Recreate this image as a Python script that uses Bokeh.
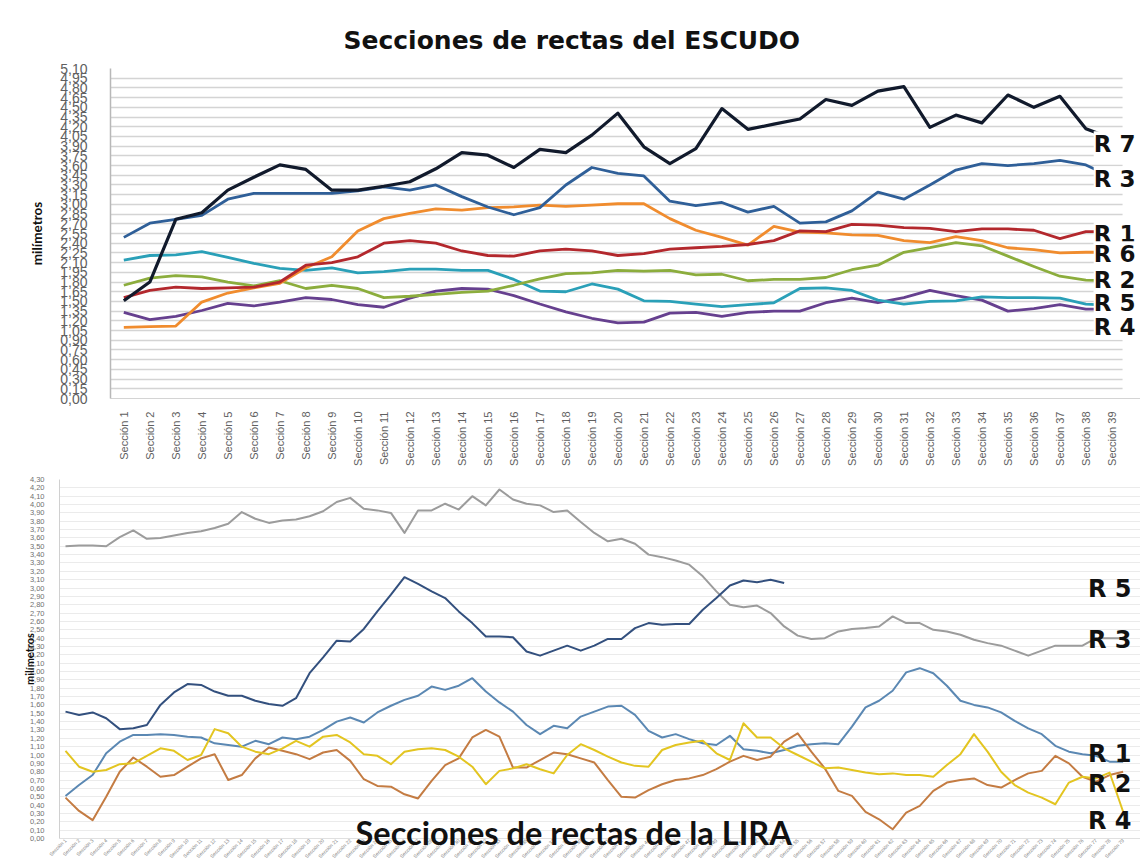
from math import pi
from bokeh.plotting import figure
from bokeh.models import FixedTicker, CustomJSTickFormatter, Label, BoxAnnotation, Title
from bokeh.embed import file_html
from bokeh.resources import INLINE

# ---------------- ESCUDO (top chart) ----------------
secciones_escudo = [f"Sección {i}" for i in range(1, 40)]
escudo_r7 = [1.51, 1.80, 2.77, 2.87, 3.22, 3.42, 3.61, 3.54, 3.22, 3.22, 3.28,
             3.35, 3.55, 3.80, 3.76, 3.57, 3.85, 3.80, 4.07, 4.41, 3.89, 3.63, 3.86, 4.48, 4.16, 4.24, 4.32,
             4.62, 4.53, 4.75, 4.82, 4.19, 4.38, 4.26, 4.69, 4.50, 4.67, 4.17, 4.02]
escudo_r3 = [2.49, 2.71, 2.77, 2.83, 3.08, 3.17, 3.17, 3.17, 3.17, 3.21, 3.27,
             3.22, 3.30, 3.12, 2.96, 2.84, 2.95, 3.30, 3.57, 3.48, 3.44, 3.05, 2.98, 3.03, 2.88, 2.97, 2.71,
             2.73, 2.90, 3.19, 3.08, 3.30, 3.53, 3.63, 3.60, 3.63, 3.68, 3.61, 3.42]
escudo_r1 = [1.56, 1.67, 1.72, 1.70, 1.71, 1.72, 1.80, 2.06, 2.10, 2.19, 2.40,
             2.44, 2.40, 2.28, 2.21, 2.20, 2.28, 2.31, 2.28, 2.21, 2.24, 2.31, 2.33, 2.35, 2.38, 2.44, 2.59,
             2.58, 2.69, 2.68, 2.64, 2.63, 2.58, 2.62, 2.62, 2.60, 2.47, 2.58, 2.58]
escudo_r6 = [1.10, 1.11, 1.12, 1.49, 1.63, 1.71, 1.78, 2.02, 2.19, 2.59, 2.78,
             2.86, 2.93, 2.91, 2.95, 2.96, 2.99, 2.97, 2.99, 3.01, 3.01, 2.78, 2.60, 2.49, 2.37, 2.66, 2.57,
             2.56, 2.53, 2.52, 2.44, 2.41, 2.50, 2.44, 2.33, 2.30, 2.25, 2.26, 2.26]
escudo_r2 = [1.75, 1.86, 1.90, 1.88, 1.80, 1.74, 1.82, 1.70, 1.75, 1.70, 1.56,
             1.58, 1.61, 1.64, 1.66, 1.75, 1.85, 1.93, 1.94, 1.98, 1.97, 1.98, 1.91, 1.92, 1.82, 1.84, 1.84,
             1.87, 1.99, 2.06, 2.26, 2.33, 2.41, 2.36, 2.20, 2.04, 1.89, 1.83, 1.82]
escudo_r5 = [2.14, 2.21, 2.22, 2.27, 2.18, 2.09, 2.01, 1.98, 2.02, 1.94, 1.96,
             2.00, 2.00, 1.98, 1.98, 1.84, 1.66, 1.65, 1.77, 1.69, 1.51, 1.50, 1.46, 1.42, 1.45, 1.48, 1.70,
             1.71, 1.67, 1.52, 1.46, 1.50, 1.51, 1.57, 1.56, 1.56, 1.55, 1.46, 1.44]
escudo_r4 = [1.33, 1.22, 1.27, 1.36, 1.47, 1.43, 1.49, 1.56, 1.53, 1.45, 1.41,
             1.55, 1.66, 1.70, 1.69, 1.59, 1.46, 1.34, 1.24, 1.17, 1.18, 1.32, 1.33, 1.27, 1.33, 1.35, 1.35,
             1.48, 1.55, 1.48, 1.56, 1.67, 1.59, 1.52, 1.35, 1.39, 1.45, 1.38, 1.38]
escudo_yticks = [round(0.15 * i, 2) for i in range(35)]

# ---------------- LIRA (bottom chart) ----------------
secciones_lira = [f"Sección {i}" for i in range(1, 80)]
lira_gris = [3.50, 3.51, 3.51, 3.50, 3.61, 3.69, 3.59, 3.60, 3.63, 3.66, 3.68, 3.72, 3.77, 3.91, 3.83, 3.78, 3.81, 3.82, 3.86, 3.92,
             4.03, 4.08, 3.95, 3.93, 3.90, 3.66, 3.93, 3.93, 4.01, 3.94, 4.10, 3.99, 4.18, 4.06, 4.01, 3.99, 3.91, 3.93, 3.79, 3.66,
             3.56, 3.59, 3.53, 3.40, 3.37, 3.33, 3.28, 3.14, 2.96, 2.80, 2.77, 2.79, 2.70, 2.54, 2.43, 2.39, 2.40, 2.48, 2.51, 2.52,
             2.54, 2.66, 2.58, 2.58, 2.50, 2.48, 2.44, 2.38, 2.34, 2.31, 2.25, 2.19, 2.25, 2.31, 2.31, 2.31, 2.40, 2.40, 2.40]
lira_azul_oscuro = [1.52, 1.48, 1.51, 1.44, 1.31, 1.32, 1.36, 1.60, 1.75, 1.85, 1.84, 1.76, 1.71, 1.71, 1.65, 1.61, 1.59, 1.68, 1.98, 2.17,
                    2.37, 2.36, 2.51, 2.72, 2.92, 3.13, 3.05, 2.96, 2.88, 2.72, 2.58, 2.42, 2.42, 2.41, 2.24, 2.19, 2.25, 2.31, 2.25, 2.31,
                    2.39, 2.39, 2.52, 2.58, 2.56, 2.57, 2.57, 2.74, 2.88, 3.03, 3.09, 3.07, 3.10, 3.06]
lira_azul_claro = [0.51, 0.64, 0.76, 1.02, 1.16, 1.24, 1.24, 1.25, 1.24, 1.22, 1.21, 1.14, 1.12, 1.10, 1.17, 1.13, 1.21, 1.19, 1.22, 1.30,
                   1.40, 1.45, 1.39, 1.51, 1.59, 1.66, 1.71, 1.82, 1.78, 1.83, 1.92, 1.76, 1.63, 1.52, 1.36, 1.25, 1.35, 1.32, 1.46, 1.52,
                   1.58, 1.59, 1.48, 1.29, 1.21, 1.25, 1.19, 1.14, 1.12, 1.23, 1.07, 1.05, 1.02, 1.06, 1.11, 1.13, 1.14, 1.13, 1.34, 1.57,
                   1.65, 1.77, 1.99, 2.04, 1.98, 1.83, 1.65, 1.60, 1.57, 1.51, 1.41, 1.32, 1.25, 1.11, 1.04, 1.01, 0.99, 0.92, 0.92]
lira_amarillo = [1.05, 0.86, 0.80, 0.82, 0.89, 0.90, 0.99, 1.08, 1.05, 0.94, 1.00, 1.31, 1.26, 1.10, 1.04, 1.01, 1.08, 1.17, 1.10, 1.22,
                 1.24, 1.15, 1.01, 0.99, 0.89, 1.04, 1.07, 1.08, 1.06, 0.98, 0.86, 0.65, 0.81, 0.84, 0.89, 0.83, 0.78, 1.00, 1.13, 1.06,
                 0.98, 0.91, 0.87, 0.86, 1.06, 1.12, 1.15, 1.17, 1.02, 0.94, 1.38, 1.21, 1.21, 1.08, 1.00, 0.92, 0.84, 0.85, 0.82, 0.79,
                 0.77, 0.78, 0.76, 0.76, 0.74, 0.88, 1.01, 1.25, 1.04, 0.80, 0.64, 0.55, 0.49, 0.41, 0.67, 0.74, 0.72, 0.79, 0.32]
lira_marron = [0.49, 0.33, 0.22, 0.50, 0.80, 0.97, 0.86, 0.74, 0.76, 0.86, 0.96, 1.01, 0.70, 0.76, 0.96, 1.09, 1.05, 1.01, 0.95, 1.03,
               1.06, 0.93, 0.71, 0.63, 0.62, 0.53, 0.48, 0.69, 0.88, 0.96, 1.21, 1.30, 1.22, 0.85, 0.85, 0.94, 1.03, 1.01, 0.96, 0.91,
               0.70, 0.50, 0.49, 0.58, 0.65, 0.70, 0.72, 0.76, 0.83, 0.92, 0.99, 0.94, 0.98, 1.16, 1.26, 1.04, 0.84, 0.57, 0.51, 0.32,
               0.23, 0.11, 0.31, 0.39, 0.57, 0.67, 0.70, 0.72, 0.64, 0.61, 0.70, 0.78, 0.81, 0.99, 0.90, 0.74, 0.68, 0.76, 0.80]
lira_yticks = [round(0.10 * i, 2) for i in range(44)]

comma_fmt = CustomJSTickFormatter(code="return tick.toFixed(2).replace('.', ',');")

# ================= TOP FIGURE =================
p1 = figure(width=1140, height=470, x_range=(0.488, 40.10), y_range=(0, 5.10),
            output_backend="svg", toolbar_location=None,
            title="Secciones de rectas del ESCUDO",
            min_border_left=110, min_border_right=0, min_border_top=68, min_border_bottom=72)
p1.outline_line_color = None
p1.title.align = "left"
p1.title.offset = 233
p1.title.standoff = 28
p1.title.text_font = "DejaVu Sans"
p1.title.text_font_style = "bold"
p1.title.text_font_size = "25px"
p1.title.text_color = "#111111"

p1.xgrid.visible = False
p1.ygrid.ticker = FixedTicker(ticks=escudo_yticks)
p1.ygrid.grid_line_color = "#d4d4d4"
p1.ygrid.grid_line_width = 1.5
# grid lines stop before the right-hand labels, as in the original
p1.add_layout(BoxAnnotation(left=39.41, fill_color="white", fill_alpha=1.0, line_color=None, level="underlay"))

p1.yaxis.ticker = FixedTicker(ticks=escudo_yticks)
p1.yaxis.formatter = comma_fmt
p1.yaxis.major_tick_line_color = None
p1.yaxis.minor_tick_line_color = None
p1.yaxis.major_label_standoff = 17
p1.yaxis.major_label_text_font = "Liberation Sans"
p1.yaxis.major_label_text_font_size = "14px"
p1.yaxis.major_label_text_color = "#606060"
p1.yaxis.axis_line_color = "#b8b8b8"
p1.yaxis.axis_line_width = 1.5
p1.yaxis.axis_label = "milímetros"
p1.yaxis.axis_label_standoff = 12
p1.yaxis.axis_label_text_font = "Lato"
p1.yaxis.axis_label_text_font_style = "bold"
p1.yaxis.axis_label_text_font_size = "13.5px"
p1.yaxis.axis_label_text_color = "#111111"

p1.xaxis.ticker = FixedTicker(ticks=list(range(1, 40)))
p1.xaxis.major_label_overrides = {i + 1: s for i, s in enumerate(secciones_escudo)}
p1.xaxis.major_label_orientation = pi / 2
p1.xaxis.major_tick_line_color = None
p1.xaxis.minor_tick_line_color = None
p1.xaxis.major_label_standoff = 7
p1.xaxis.major_label_text_font = "Liberation Sans"
p1.xaxis.major_label_text_font_size = "11px"
p1.xaxis.major_label_text_color = "#606060"
p1.xaxis.axis_line_color = "#d4d4d4"

xs1 = list(range(1, 40))
escudo_series = [
    (escudo_r4, "#66408f"),
    (escudo_r5, "#2aa0b8"),
    (escudo_r2, "#8cad3d"),
    (escudo_r6, "#f08c2e"),
    (escudo_r1, "#b3282d"),
    (escudo_r3, "#2f5f98"),
    (escudo_r7, "#111a2c"),
]
for vals, col in escudo_series:
    p1.line(xs1, vals, line_color=col, line_width=3.2 if col == "#111a2c" else 2.8, line_join="round")

escudo_labels = [("R 7", 3.93), ("R 3", 3.39), ("R 1", 2.54), ("R 6", 2.23), ("R 2", 1.83), ("R 5", 1.47), ("R 4", 1.11)]
for t, yv in escudo_labels:
    p1.add_layout(Label(x=38.30, y=yv, text=t, text_align="left", text_baseline="middle",
                        text_font="DejaVu Sans", text_font_style="bold", text_font_size="23px",
                        text_color="#111111", background_fill_color="white", background_fill_alpha=1.0))

# ================= BOTTOM FIGURE =================
p2 = figure(width=1140, height=394, x_range=(0.5575, 80.28), y_range=(0, 4.30),
            output_backend="svg", toolbar_location=None,
            min_border_left=59, min_border_right=0, min_border_top=9, min_border_bottom=23)
p2.outline_line_color = None
p2.xgrid.visible = False
p2.ygrid.ticker = FixedTicker(ticks=lira_yticks)
p2.ygrid.grid_line_color = "#ebebeb"
p2.ygrid.grid_line_width = 1.2

p2.yaxis.ticker = FixedTicker(ticks=lira_yticks)
p2.yaxis.formatter = comma_fmt
p2.yaxis.major_tick_line_color = None
p2.yaxis.minor_tick_line_color = None
p2.yaxis.major_label_standoff = 9
p2.yaxis.major_label_text_font = "Liberation Sans"
p2.yaxis.major_label_text_font_size = "7.5px"
p2.yaxis.major_label_text_color = "#707070"
p2.yaxis.axis_line_color = "#d0d0d0"
p2.yaxis.axis_label = "milímetros"
p2.yaxis.axis_label_standoff = -9
p2.yaxis.axis_label_text_font = "Lato"
p2.yaxis.axis_label_text_font_style = "bold"
p2.yaxis.axis_label_text_font_size = "11px"
p2.yaxis.axis_label_text_color = "#111111"

p2.xaxis.ticker = FixedTicker(ticks=list(range(1, 80)))
p2.xaxis.major_label_overrides = {i + 1: s for i, s in enumerate(secciones_lira)}
p2.xaxis.major_label_orientation = pi / 4
p2.xaxis.major_tick_line_color = None
p2.xaxis.minor_tick_line_color = None
p2.xaxis.major_tick_out = 0
p2.xaxis.major_tick_in = 0
p2.xaxis.major_label_standoff = 1
p2.xaxis.major_label_text_font = "Liberation Sans"
p2.xaxis.major_label_text_font_size = "5px"
p2.xaxis.major_label_text_color = "#808080"
p2.xaxis.axis_line_color = "#e0e0e0"

# the chart's title sits over the bottom of the plot, as in the original
p2.add_layout(Title(text="Secciones de rectas  de la LIRA", align="left", offset=296, standoff=-103,
                    vertical_align="top",
                    text_font="Lato", text_font_style="bold", text_font_size="32.5px",
                    text_color="#111111"), "below")

lira_series = [
    (lira_gris, "#9c9c9c"),
    (lira_azul_oscuro, "#33507e"),
    (lira_azul_claro, "#5b88b3"),
    (lira_marron, "#c47c43"),
    (lira_amarillo, "#e3c521"),
]
for vals, col in lira_series:
    p2.line(list(range(1, len(vals) + 1)), vals, line_color=col, line_width=2, line_join="round")

lira_labels = [("R 5", 2.99), ("R 3", 2.38), ("R 1", 1.01), ("R 2", 0.65), ("R 4", 0.21)]
for t, yv in lira_labels:
    p2.add_layout(Label(x=76.4, y=yv, text=t, text_align="left", text_baseline="middle",
                        text_font="DejaVu Sans", text_font_style="bold", text_font_size="24px",
                        text_color="#111111"))

# two independent roots, stacked, so that each keeps its own frame position
open("out.html", "w").write(file_html((p1, p2), INLINE))
